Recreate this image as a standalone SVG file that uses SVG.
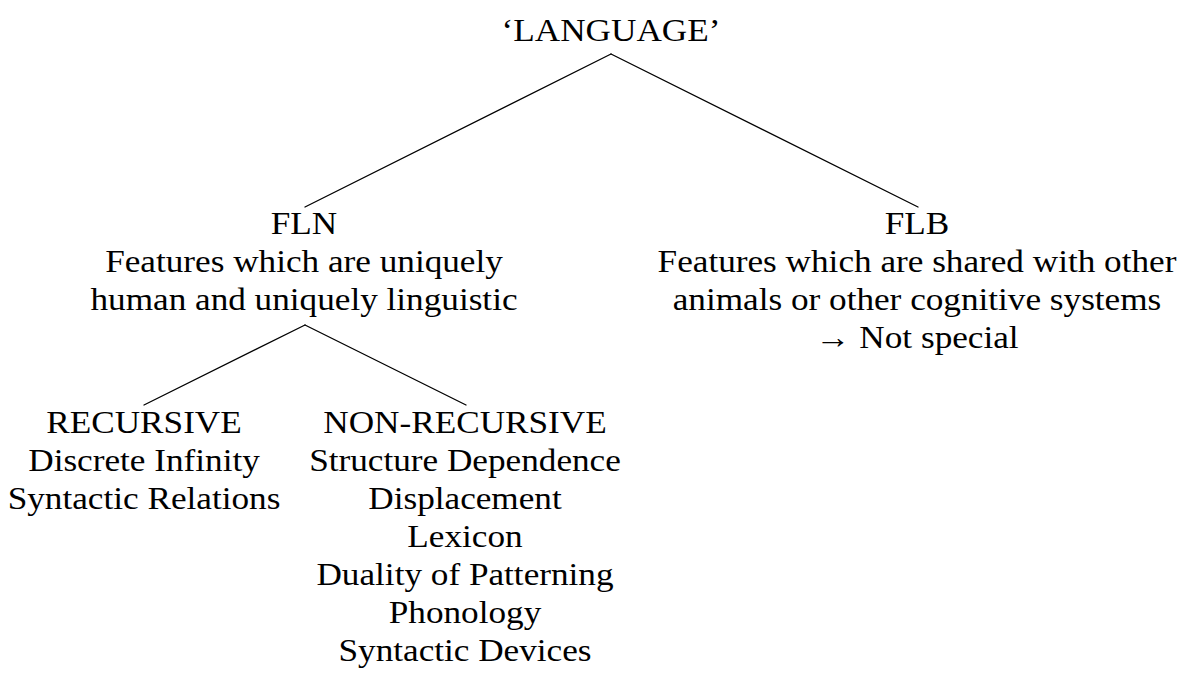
<svg xmlns="http://www.w3.org/2000/svg" width="1187" height="673" viewBox="0 0 1187 673">
<style>
.t{font-family:"Liberation Serif","Times New Roman",serif;font-size:32px;text-anchor:middle;fill:#000}
.e{stroke:#000;stroke-width:1.3;fill:none;stroke-linecap:round}
</style>
<rect width="1187" height="673" fill="#fff"/>
<g id="connectors">
<line class="e" x1="611" y1="54" x2="305" y2="207"/>
<line class="e" x1="611" y1="54" x2="918" y2="207"/>
<line class="e" x1="305" y1="325" x2="144" y2="405"/>
<line class="e" x1="305" y1="325" x2="466" y2="405"/>
</g>
<g id="language" transform="translate(611,0) scale(1.1,1)">
<text class="t" x="0" y="41">‘LANGUAGE’</text>
</g>
<g id="fln" transform="translate(304,0) scale(1.1,1)">
<text class="t" x="0" y="234">FLN</text>
<text class="t" x="0" y="272">Features which are uniquely</text>
<text class="t" x="0" y="310">human and uniquely linguistic</text>
</g>
<g id="flb" transform="translate(917,0) scale(1.1,1)">
<text class="t" x="0" y="234">FLB</text>
<text class="t" x="0" y="272">Features which are shared with other</text>
<text class="t" x="0" y="310">animals or other cognitive systems</text>
<text class="t" x="0" y="348">→ Not special</text>
</g>
<g id="recursive" transform="translate(144,0) scale(1.1,1)">
<text class="t" x="0" y="433">RECURSIVE</text>
<text class="t" x="0" y="471">Discrete Infinity</text>
<text class="t" x="0" y="509">Syntactic Relations</text>
</g>
<g id="nonrecursive" transform="translate(465,0) scale(1.1,1)">
<text class="t" x="0" y="433">NON-RECURSIVE</text>
<text class="t" x="0" y="471">Structure Dependence</text>
<text class="t" x="0" y="509">Displacement</text>
<text class="t" x="0" y="547">Lexicon</text>
<text class="t" x="0" y="585">Duality of Patterning</text>
<text class="t" x="0" y="623">Phonology</text>
<text class="t" x="0" y="661">Syntactic Devices</text>
</g>
</svg>
